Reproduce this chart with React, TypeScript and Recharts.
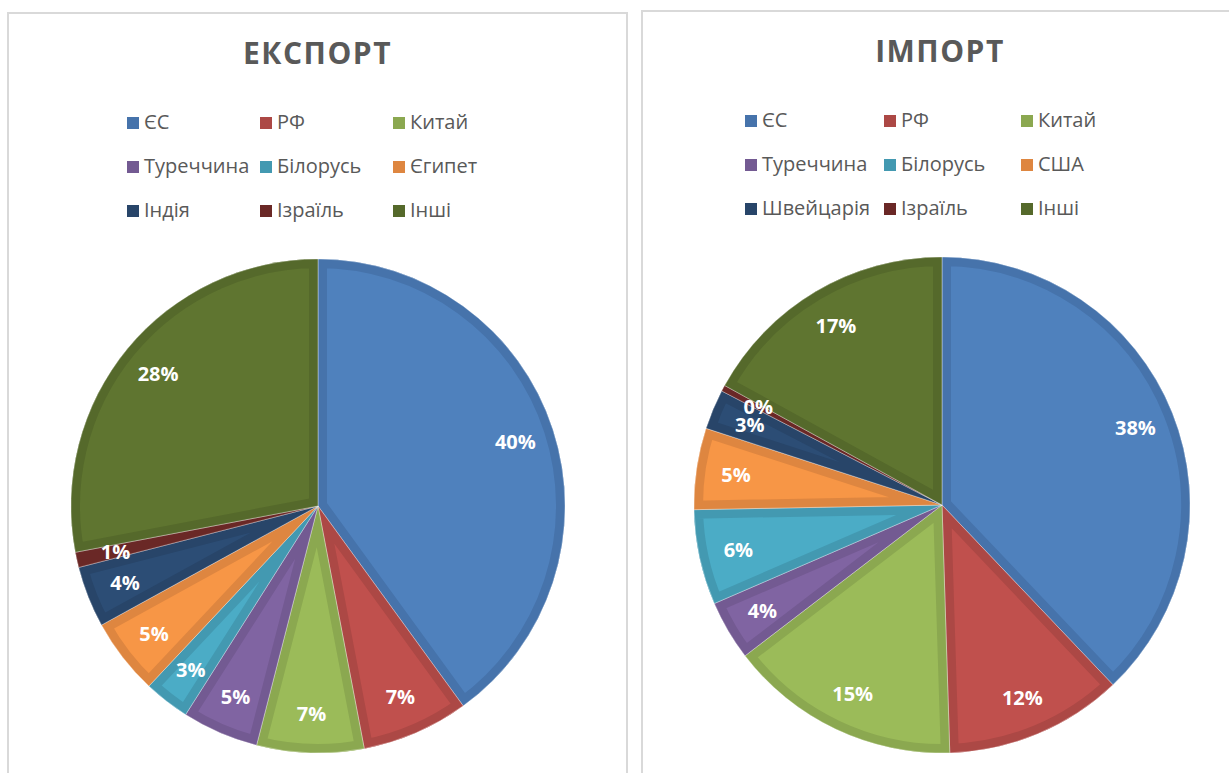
import React from 'react';
import { PieChart, Pie, Cell, Sector } from 'recharts';

const exportCategories = ['ЄС', 'РФ', 'Китай', 'Туреччина', 'Білорусь', 'Єгипет', 'Індія', 'Ізраїль', 'Інші'];
const exportValues = [40, 7, 7, 5, 3, 5, 4, 1, 28];

const importCategories = ['ЄС', 'РФ', 'Китай', 'Туреччина', 'Білорусь', 'США', 'Швейцарія', 'Ізраїль', 'Інші'];
const importValues = [37.9, 11.6, 15.1, 3.9, 6.2, 5.3, 2.6, 0.4, 17.0];

const fillColors = ['#4F81BD', '#C0504D', '#9BBB59', '#8064A2', '#4BACC6', '#F79646', '#2C4D75', '#772C2A', '#5F7530'];
const edgeColors = ['#4673AB', '#AC4845', '#8BA850', '#735A92', '#4399B1', '#DE8640', '#284569', '#6A2826', '#55692B'];

const exportData = exportCategories.map((name, i) => ({ name, value: exportValues[i] }));
const importData = importCategories.map((name, i) => ({ name, value: importValues[i] }));

const RADIAN = Math.PI / 180;
const FONT = '"Open Sans", "Noto Sans", sans-serif';
const TEXT_GRAY = '#595959';

const makeBandLabel = (prefix: string) => (props: any) => {
  const { cx, cy, innerRadius, outerRadius, startAngle, endAngle, index } = props;
  const id = `${prefix}-clip-${index}`;
  return (
    <g key={id}>
      <defs>
        <clipPath id={id}>
          <Sector cx={cx} cy={cy} innerRadius={innerRadius} outerRadius={outerRadius} startAngle={startAngle} endAngle={endAngle} />
        </clipPath>
      </defs>
      <g clipPath={`url(#${id})`}>
        <Sector
          cx={cx}
          cy={cy}
          innerRadius={innerRadius}
          outerRadius={outerRadius}
          startAngle={startAngle}
          endAngle={endAngle}
          fill="none"
          stroke={edgeColors[index]}
          strokeWidth={18}
        />
      </g>
      <Sector
        cx={cx}
        cy={cy}
        innerRadius={innerRadius}
        outerRadius={outerRadius}
        startAngle={startAngle}
        endAngle={endAngle}
        fill="none"
        stroke="rgba(255,255,255,0.45)"
        strokeWidth={0.8}
      />
    </g>
  );
};

const renderPercentLabel = (props: any) => {
  const { cx, cy, outerRadius, midAngle, percent, index } = props;
  const r = outerRadius * 0.84;
  const x = cx + r * Math.cos(-midAngle * RADIAN);
  const y = cy + r * Math.sin(-midAngle * RADIAN);
  return (
    <text
      key={`pl-${index}`}
      x={x}
      y={y}
      fill="#ffffff"
      textAnchor="middle"
      dominantBaseline="central"
      style={{ fontFamily: FONT, fontWeight: 700, fontSize: 20 }}
    >
      {`${Math.round(percent * 100)}%`}
    </text>
  );
};

type PanelProps = {
  prefix: string;
  data: { name: string; value: number }[];
  chartLeft: number;
  chartWidth: number;
  cx: number;
  cy: number;
  radius: number;
};

const PieBlock = ({ prefix, data, chartLeft, chartWidth, cx, cy, radius }: PanelProps) => (
  <div style={{ position: 'absolute', left: chartLeft, top: 0 }}>
    <PieChart width={chartWidth} height={773} margin={{ top: 0, right: 0, bottom: 0, left: 0 }}>
      <Pie
        data={data}
        dataKey="value"
        nameKey="name"
        cx={cx}
        cy={cy}
        outerRadius={radius}
        innerRadius={0}
        startAngle={90}
        endAngle={-270}
        stroke="none"
        isAnimationActive={false}
        labelLine={false}
        label={makeBandLabel(prefix)}
      >
        {data.map((d, i) => (
          <Cell key={d.name} fill={fillColors[i]} />
        ))}
      </Pie>
      <Pie
        data={data}
        dataKey="value"
        nameKey="name"
        cx={cx}
        cy={cy}
        outerRadius={radius}
        innerRadius={0}
        startAngle={90}
        endAngle={-270}
        stroke="none"
        fill="transparent"
        isAnimationActive={false}
        labelLine={false}
        label={renderPercentLabel}
      >
        {data.map((d) => (
          <Cell key={d.name} fill="transparent" />
        ))}
      </Pie>
    </PieChart>
  </div>
);

const Legend = ({ categories, columns, rowBaselines }: { categories: string[]; columns: number[]; rowBaselines: number[] }) => (
  <>
    {categories.map((name, i) => {
      const col = i % 3;
      const row = Math.floor(i / 3);
      const x = columns[col];
      const base = rowBaselines[row];
      return (
        <g key={name}>
          <rect x={x} y={base - 12} width={12} height={12} fill={edgeColors[i]} />
          <text x={x + 17} y={base} fill={TEXT_GRAY} style={{ fontFamily: FONT, fontSize: 20 }}>
            {name}
          </text>
        </g>
      );
    })}
  </>
);

export default function App() {
  return (
    <div style={{ position: 'absolute', left: 0, top: 0, width: 1229, height: 773, overflow: 'hidden', background: '#ffffff' }}>
      <div style={{ position: 'absolute', left: 7, top: 12, width: 621, height: 820, border: '2px solid #d9d9d9', boxSizing: 'border-box' }} />
      <div style={{ position: 'absolute', left: 641, top: 10, width: 621, height: 820, border: '2px solid #d9d9d9', boxSizing: 'border-box' }} />

      <PieBlock prefix="exp" data={exportData} chartLeft={0} chartWidth={630} cx={318} cy={506} radius={247} />
      <PieBlock prefix="imp" data={importData} chartLeft={630} chartWidth={599} cx={312} cy={505} radius={248} />

      <svg width={1229} height={773} style={{ position: 'absolute', left: 0, top: 0, pointerEvents: 'none' }}>
        <text x={317.5} y={64} textAnchor="middle" fill={TEXT_GRAY} style={{ fontFamily: FONT, fontWeight: 700, fontSize: 30, letterSpacing: 1.5 }}>
          ЕКСПОРТ
        </text>
        <text x={940} y={62} textAnchor="middle" fill={TEXT_GRAY} style={{ fontFamily: FONT, fontWeight: 700, fontSize: 30, letterSpacing: 1.5 }}>
          ІМПОРТ
        </text>
        <Legend categories={exportCategories} columns={[127, 260, 393]} rowBaselines={[129, 173, 217]} />
        <Legend categories={importCategories} columns={[745, 884, 1021]} rowBaselines={[127, 171, 215]} />
      </svg>
    </div>
  );
}
